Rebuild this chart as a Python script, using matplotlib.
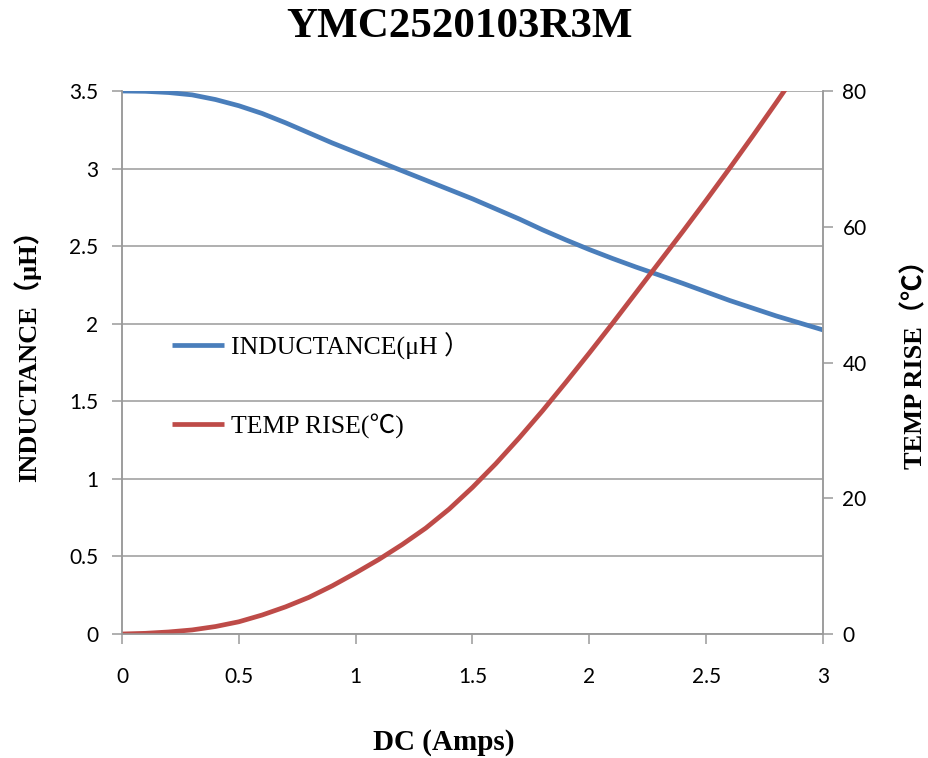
import numpy as np
import matplotlib
matplotlib.use('Agg')
import matplotlib.pyplot as plt

# DC current (A)
current = [0.0, 0.1, 0.2, 0.3, 0.4, 0.5, 0.6, 0.7, 0.8, 0.9, 1.0,
           1.1, 1.2, 1.3, 1.4, 1.5, 1.6, 1.7, 1.8, 1.9, 2.0,
           2.1, 2.2, 2.3, 2.4, 2.5, 2.6, 2.7, 2.8, 2.9, 3.0]

# inductance (uH)
inductance = [3.500, 3.498, 3.490, 3.475, 3.445, 3.405, 3.355, 3.295, 3.230, 3.165, 3.105,
              3.045, 2.985, 2.925, 2.865, 2.805, 2.740, 2.675, 2.605, 2.540, 2.478,
              2.420, 2.365, 2.313, 2.260, 2.205, 2.150, 2.100, 2.050, 2.005, 1.960]

# temperature rise (C)
temp_rise = [0.0, 0.1, 0.3, 0.6, 1.1, 1.8, 2.8, 4.0, 5.4, 7.1, 9.0,
             11.0, 13.2, 15.6, 18.4, 21.6, 25.1, 28.9, 32.9, 37.1, 41.4,
             45.8, 50.3, 54.8, 59.3, 63.9, 68.6, 73.4, 78.3, 83.3, 88.4]

x_ticks = [0, 0.5, 1, 1.5, 2, 2.5, 3]
x_ticklabels = ['0', '0.5', '1', '1.5', '2', '2.5', '3']
left_ticks = [0, 0.5, 1, 1.5, 2, 2.5, 3, 3.5]
left_ticklabels = ['0', '0.5', '1', '1.5', '2', '2.5', '3', '3.5']
right_ticks = [0, 20, 40, 60, 80]

blue = '#4a7ebb'
red = '#be4b48'
grid_c = '#9a9a9a'
serif = ['Liberation Serif', 'Noto Sans CJK SC', 'DejaVu Sans']
sans = 'Lato'

fig = plt.figure(figsize=(9.29, 7.58), dpi=100)
ax1 = fig.add_axes([122/929, 1-634/758, (823-122)/929, (634-91)/758])
ax2 = ax1.twinx()

ax1.set_xlim(0, 3)
ax1.set_ylim(0, 3.5)
ax2.set_ylim(0, 80)

for y in left_ticks:
    ax1.axhline(y, color=grid_c, lw=1.1, zorder=0)

l1, = ax1.plot(current, inductance, color=blue, lw=3.4, solid_capstyle='butt', label='INDUCTANCE(μH ）')
l2, = ax2.plot(current, temp_rise, color=red, lw=3.4, solid_capstyle='butt', label='TEMP RISE(℃)')

ax1.set_xticks(x_ticks)
ax1.set_xticklabels(x_ticklabels, fontfamily=sans, fontsize=15)
ax1.set_yticks(left_ticks)
ax1.set_yticklabels(left_ticklabels, fontfamily=sans, fontsize=15)
ax2.set_yticks(right_ticks)
ax2.set_yticklabels([str(t) for t in right_ticks], fontfamily=sans, fontsize=15)

ax1.tick_params(axis='x', direction='out', length=7, width=1.1, color=grid_c, pad=17)
ax1.tick_params(axis='y', direction='out', length=7, width=1.1, color=grid_c, pad=10)
ax2.tick_params(axis='y', direction='out', length=7, width=1.1, color=grid_c, pad=7)

for a in (ax1, ax2):
    a.spines['top'].set_visible(False)
    for s in ('left', 'right', 'bottom'):
        a.spines[s].set_color(grid_c)
        a.spines[s].set_linewidth(1.1)

fig.text(460/929, 1-27/758, 'YMC2520103R3M', ha='center', va='center',
         fontfamily=serif, fontweight='bold', fontsize=31)
fig.text(444/929, 1-742/758, 'DC (Amps)', ha='center', va='center',
         fontfamily=serif, fontweight='bold', fontsize=21)
fig.text(27/929, 1-350/758, 'INDUCTANCE（μH）', ha='center', va='center', rotation=90,
         fontfamily=serif, fontweight='bold', fontsize=19)
fig.text(915/929, 1-358/758, 'TEMP RISE（℃）', ha='center', va='center', rotation=90,
         fontfamily=serif, fontweight='bold', fontsize=19)

leg = ax1.legend(handles=[l1, l2], loc='upper left',
                 bbox_to_anchor=((162-122)/701, 1-(322-91)/543),
                 frameon=False, handlelength=2.0, handletextpad=0.3, labelspacing=2.1,
                 borderaxespad=0, prop={'family': serif, 'size': 18.5})

fig.savefig('out.png', dpi=100)
